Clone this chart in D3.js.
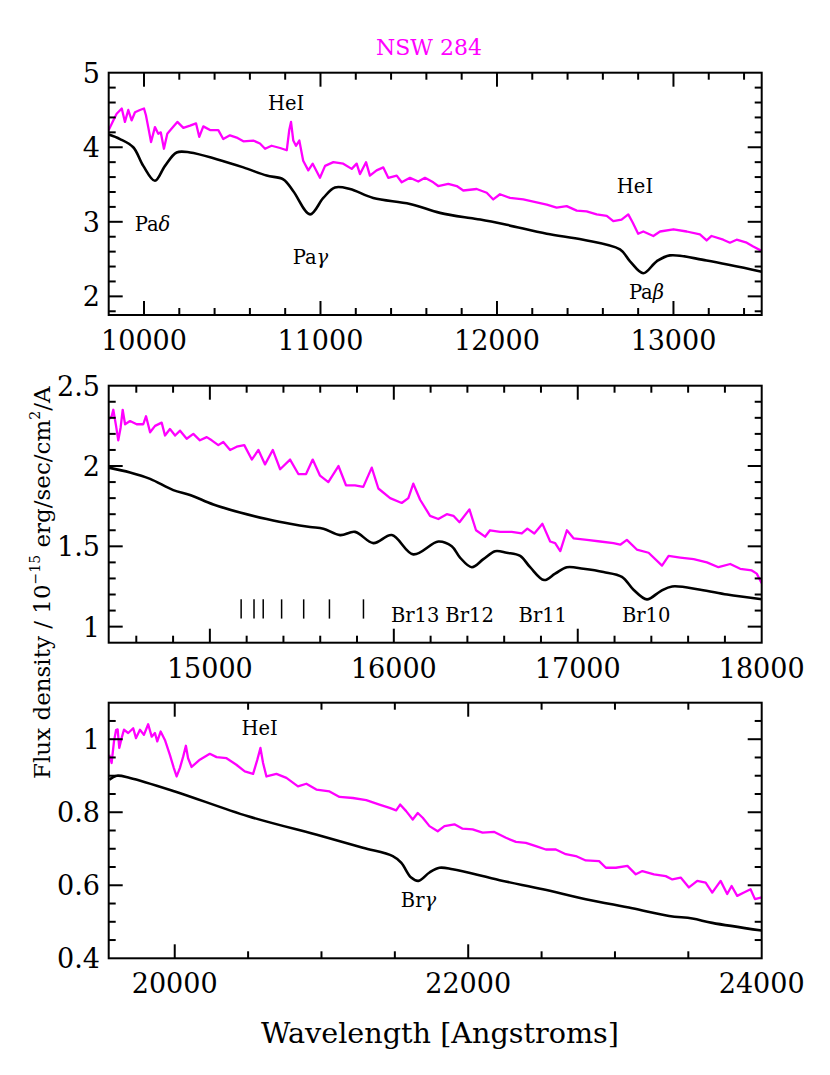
<!DOCTYPE html>
<html>
<head>
<meta charset="utf-8">
<script src="https://cdn.jsdelivr.net/npm/d3@7"></script>
<style>
  body { margin: 0; background: #fff; }
  text { font-family: "DejaVu Serif", serif; fill: #000; }
</style>
</head>
<body>
<svg id="chart"></svg>
<script>
// ---- data: [wavelength (A), flux] ----
const p1Obs = [[9800,4.23],[9826,4.36],[9845,4.45],[9874,4.52],[9892,4.34],[9911,4.50],[9930,4.36],[9949,4.47],[9977,4.50],[10000,4.52],[10011,4.43],[10024,4.27],[10040,4.07],[10062,4.27],[10081,4.18],[10095,4.20],[10113,3.98],[10132,4.18],[10157,4.25],[10189,4.34],[10223,4.26],[10261,4.29],[10295,4.32],[10313,4.14],[10336,4.28],[10374,4.23],[10421,4.23],[10449,4.11],[10487,4.16],[10525,4.13],[10563,4.08],[10619,4.09],[10657,4.05],[10686,3.98],[10723,4.02],[10771,3.99],[10809,3.96],[10823,4.23],[10833,4.34],[10846,4.09],[10861,4.02],[10880,4.09],[10902,3.82],[10931,3.69],[10956,3.78],[10997,3.59],[11026,3.75],[11073,3.80],[11129,3.78],[11177,3.71],[11205,3.78],[11224,3.64],[11258,3.80],[11280,3.62],[11318,3.69],[11356,3.73],[11384,3.59],[11432,3.62],[11460,3.53],[11507,3.59],[11554,3.54],[11592,3.59],[11639,3.53],[11667,3.48],[11724,3.51],[11772,3.48],[11809,3.42],[11847,3.43],[11885,3.44],[11942,3.39],[11979,3.30],[12017,3.37],[12074,3.32],[12149,3.30],[12225,3.26],[12282,3.23],[12338,3.19],[12395,3.21],[12452,3.15],[12508,3.14],[12565,3.10],[12622,3.08],[12659,3.01],[12706,3.03],[12744,3.10],[12769,2.99],[12800,2.84],[12829,2.87],[12886,2.81],[12924,2.87],[13000,2.90],[13075,2.87],[13150,2.83],[13188,2.75],[13216,2.81],[13282,2.76],[13320,2.72],[13358,2.76],[13415,2.72],[13452,2.67],[13500,2.61]];
const p1Model = [[9800,4.17],[9864,4.11],[9939,4.00],[9996,3.75],[10062,3.55],[10119,3.75],[10185,3.93],[10261,3.93],[10412,3.84],[10563,3.73],[10695,3.62],[10789,3.57],[10846,3.41],[10941,3.10],[11016,3.32],[11082,3.46],[11167,3.44],[11299,3.32],[11507,3.24],[11677,3.12],[11847,3.05],[11905,3.03],[12055,2.96],[12282,2.84],[12489,2.76],[12697,2.63],[12754,2.47],[12829,2.31],[12905,2.47],[12980,2.55],[13188,2.48],[13500,2.33]];

const p2Obs = [[14450,2.29],[14466,2.31],[14475,2.35],[14490,2.25],[14502,2.16],[14515,2.24],[14526,2.35],[14539,2.26],[14566,2.28],[14602,2.26],[14638,2.26],[14653,2.31],[14675,2.21],[14702,2.25],[14738,2.27],[14756,2.19],[14783,2.23],[14811,2.19],[14838,2.22],[14874,2.17],[14910,2.20],[14946,2.16],[14983,2.18],[15010,2.16],[15046,2.13],[15073,2.15],[15110,2.10],[15146,2.12],[15187,2.13],[15228,2.04],[15264,2.10],[15300,2.01],[15342,2.10],[15382,1.98],[15436,2.04],[15481,1.95],[15523,1.95],[15559,2.04],[15599,1.94],[15644,1.90],[15699,2.00],[15740,1.88],[15789,1.88],[15834,1.87],[15880,1.99],[15916,1.86],[15980,1.80],[16043,1.77],[16079,1.80],[16106,1.89],[16143,1.79],[16197,1.69],[16242,1.67],[16288,1.70],[16324,1.69],[16357,1.65],[16411,1.73],[16447,1.60],[16496,1.56],[16523,1.60],[16578,1.59],[16641,1.59],[16696,1.58],[16726,1.61],[16764,1.58],[16808,1.64],[16850,1.53],[16877,1.52],[16905,1.47],[16941,1.60],[16977,1.55],[17050,1.54],[17122,1.53],[17194,1.52],[17231,1.51],[17267,1.54],[17321,1.48],[17385,1.46],[17458,1.38],[17494,1.44],[17557,1.43],[17630,1.42],[17702,1.40],[17765,1.37],[17829,1.39],[17883,1.36],[17946,1.35],[17973,1.33],[18000,1.27]];
const p2Model = [[14450,1.99],[14566,1.96],[14675,1.92],[14801,1.85],[14892,1.82],[15019,1.76],[15164,1.71],[15309,1.67],[15436,1.64],[15545,1.62],[15617,1.61],[15708,1.57],[15789,1.59],[15889,1.52],[15989,1.57],[16106,1.45],[16242,1.53],[16315,1.50],[16360,1.43],[16424,1.37],[16487,1.42],[16551,1.47],[16614,1.46],[16687,1.44],[16741,1.37],[16817,1.29],[16877,1.33],[16941,1.37],[17031,1.36],[17140,1.34],[17240,1.31],[17303,1.23],[17376,1.17],[17449,1.22],[17513,1.25],[17667,1.23],[17812,1.20],[18000,1.17]];

const p3Obs = [[19554,0.957],[19570,0.935],[19586,0.994],[19600,1.025],[19611,1.027],[19622,0.976],[19638,1.003],[19654,1.026],[19683,1.017],[19717,1.030],[19736,1.003],[19763,1.026],[19790,1.012],[19819,1.041],[19843,1.007],[19865,1.017],[19881,0.994],[19904,1.021],[19933,0.998],[19967,0.957],[19994,0.921],[20013,0.898],[20035,0.921],[20058,0.953],[20076,0.982],[20091,0.948],[20115,0.924],[20171,0.944],[20239,0.960],[20285,0.951],[20353,0.948],[20420,0.930],[20477,0.912],[20534,0.905],[20563,0.944],[20584,0.976],[20602,0.935],[20625,0.898],[20693,0.905],[20761,0.894],[20840,0.871],[20897,0.878],[20965,0.862],[21055,0.857],[21123,0.842],[21214,0.839],[21305,0.833],[21395,0.821],[21464,0.812],[21509,0.805],[21536,0.821],[21577,0.803],[21622,0.780],[21656,0.798],[21690,0.785],[21736,0.762],[21792,0.748],[21838,0.762],[21906,0.767],[21962,0.755],[22030,0.753],[22098,0.744],[22178,0.746],[22257,0.730],[22325,0.719],[22393,0.716],[22461,0.707],[22529,0.698],[22597,0.698],[22665,0.685],[22733,0.680],[22801,0.668],[22892,0.666],[22938,0.648],[23006,0.648],[23085,0.653],[23142,0.630],[23187,0.639],[23266,0.630],[23346,0.625],[23391,0.616],[23448,0.621],[23504,0.594],[23561,0.612],[23618,0.607],[23663,0.580],[23720,0.612],[23765,0.576],[23795,0.598],[23833,0.571],[23879,0.580],[23924,0.589],[23954,0.562],[24000,0.567]];
const p3Model = [[19554,0.889],[19604,0.900],[19695,0.894],[20001,0.857],[20500,0.789],[20999,0.735],[21282,0.703],[21486,0.680],[21543,0.662],[21611,0.621],[21661,0.612],[21736,0.635],[21804,0.648],[21894,0.644],[22214,0.614],[22509,0.589],[22801,0.562],[23118,0.537],[23369,0.516],[23527,0.509],[23663,0.497],[24000,0.476]];

// axis ranges and tick labels
const p1XDomain = [9800, 13500], p1YDomain = [1.75, 5];
const p2XDomain = [14450, 18000], p2YDomain = [0.9, 2.5];
const p3XDomain = [19550, 24000], p3YDomain = [0.4, 1.1];
const p1XTicks = [10000, 11000, 12000, 13000], p1YTicks = [2, 3, 4, 5];
const p2XTicks = [15000, 16000, 17000, 18000], p2YTicks = [1, 1.5, 2, 2.5];
const p3XTicks = [20000, 22000, 24000], p3YTicks = [0.4, 0.6, 0.8, 1];

// line identifications: text, wavelength, flux at baseline
const p1Labels = [['HeI', 10805, 4.50], ['Pa|δ', 10048, 2.87], ['Pa|γ', 10943, 2.43], ['HeI', 12782, 3.39], ['Pa|β', 12847, 1.96]];
const p2Labels = [['Br13', 16116, 1.03], ['Br12', 16412, 1.03], ['Br11', 16810, 1.03], ['Br10', 17372, 1.03]];
const p3Labels = [['HeI', 20579, 1.012], ['Br|γ', 21661, 0.54]];
const brMarks = [15170, 15240, 15290, 15390, 15510, 15650, 15835];
const brMarkSpan = [1.05, 1.17];

const W = 830, H = 1075;
const left = 108.7, right = 761.7;
const MAG = '#ff00ff';

const svg = d3.select('#chart').attr('width', W).attr('height', H);
svg.append('rect').attr('width', W).attr('height', H).attr('fill', '#fff');

const panels = [
  { top: 72.7, bottom: 315, xd: p1XDomain, yd: p1YDomain, xt: p1XTicks, yt: p1YTicks, xm: 200, ym: 0.2, obs: p1Obs, model: p1Model, labels: p1Labels },
  { top: 385.7, bottom: 642.7, xd: p2XDomain, yd: p2YDomain, xt: p2XTicks, yt: p2YTicks, xm: 200, ym: 0.1, obs: p2Obs, model: p2Model, labels: p2Labels },
  { top: 702.7, bottom: 958.3, xd: p3XDomain, yd: p3YDomain, xt: p3XTicks, yt: p3YTicks, xm: 500, ym: 0.05, obs: p3Obs, model: p3Model, labels: p3Labels }
];

function minors(domain, step) {
  const i0 = Math.ceil(domain[0] / step + 1e-6), i1 = Math.floor(domain[1] / step - 1e-6);
  return d3.range(i0, i1 + 1).map(i => i * step);
}

panels.forEach((p, k) => {
  const x = d3.scaleLinear().domain(p.xd).range([left, right]);
  const y = d3.scaleLinear().domain(p.yd).range([p.bottom, p.top]);
  const g = svg.append('g');

  // clip so the curves stay in the box
  g.append('clipPath').attr('id', 'clip' + k)
    .append('rect').attr('x', left).attr('y', p.top).attr('width', right - left).attr('height', p.bottom - p.top);

  const lin = d3.line().x(d => x(d[0])).y(d => y(d[1]));
  const smooth = d3.line().x(d => x(d[0])).y(d => y(d[1])).curve(d3.curveCatmullRom.alpha(0.5));

  g.append('path').attr('clip-path', `url(#clip${k})`)
    .attr('d', lin(p.obs)).attr('fill', 'none').attr('stroke', MAG)
    .attr('stroke-width', 2.3).attr('stroke-linejoin', 'round');
  g.append('path').attr('clip-path', `url(#clip${k})`)
    .attr('d', smooth(p.model)).attr('fill', 'none').attr('stroke', '#000').attr('stroke-width', 2.6);

  // frame
  g.append('rect').attr('x', left).attr('y', p.top).attr('width', right - left).attr('height', p.bottom - p.top)
    .attr('fill', 'none').attr('stroke', '#000').attr('stroke-width', 2);

  // ticks, inward on all four sides
  const isMajor = (v, list) => list.some(t => Math.abs(t - v) < 1e-6);
  const xm = minors(p.xd, p.xm), ym = minors(p.yd, p.ym);
  const tk = g.append('g').attr('stroke', '#000').attr('stroke-width', 2);
  xm.forEach(v => {
    const L = isMajor(v, p.xt) ? 14 : 7;
    tk.append('line').attr('x1', x(v)).attr('x2', x(v)).attr('y1', p.bottom).attr('y2', p.bottom - L);
    tk.append('line').attr('x1', x(v)).attr('x2', x(v)).attr('y1', p.top).attr('y2', p.top + L);
  });
  ym.forEach(v => {
    const L = isMajor(v, p.yt) ? 14 : 7;
    tk.append('line').attr('y1', y(v)).attr('y2', y(v)).attr('x1', left).attr('x2', left + L);
    tk.append('line').attr('y1', y(v)).attr('y2', y(v)).attr('x1', right).attr('x2', right - L);
  });

  // tick labels
  g.selectAll('.xl').data(p.xt).enter().append('text')
    .attr('x', d => x(d)).attr('y', p.bottom + 35)
    .attr('text-anchor', 'middle').attr('font-size', 27).text(d => d);
  g.selectAll('.yl').data(p.yt).enter().append('text')
    .attr('x', 100).attr('y', d => y(d) + 10)
    .attr('text-anchor', 'end').attr('font-size', 27).text(d => d);

  // line identifications
  p.labels.forEach(([txt, wl, f]) => {
    const parts = txt.split('|');
    const t = g.append('text').attr('x', x(wl)).attr('y', y(f))
      .attr('text-anchor', 'middle').attr('font-size', 19.5);
    t.append('tspan').text(parts[0]);
    if (parts[1]) t.append('tspan').attr('font-style', 'italic').text(parts[1]);
  });

  if (k === 1) {
    g.selectAll('.br').data(brMarks).enter().append('line')
      .attr('x1', d => x(d)).attr('x2', d => x(d))
      .attr('y1', y(brMarkSpan[0])).attr('y2', y(brMarkSpan[1]))
      .attr('stroke', '#000').attr('stroke-width', 1.5);
  }
});

// title
svg.append('text').attr('x', 429).attr('y', 55).attr('text-anchor', 'middle')
  .attr('font-size', 22).style('fill', MAG).text('NSW 284');

// axis titles
svg.append('text').attr('x', 440).attr('y', 1043).attr('text-anchor', 'middle')
  .attr('font-size', 28).attr('textLength', 358).attr('lengthAdjust', 'spacingAndGlyphs')
  .text('Wavelength [Angstroms]');

const yl = svg.append('text').attr('transform', 'translate(50,779) rotate(-90)')
  .attr('font-size', 23);
yl.append('tspan').text('Flux density / 10');
yl.append('tspan').attr('font-size', 14).attr('dy', -10).text('\u221215');
yl.append('tspan').attr('dy', 10).text(' erg/sec/cm');
yl.append('tspan').attr('font-size', 14).attr('dy', -10).text('2');
yl.append('tspan').attr('dy', 10).text('/A');
</script>
</body>
</html>
